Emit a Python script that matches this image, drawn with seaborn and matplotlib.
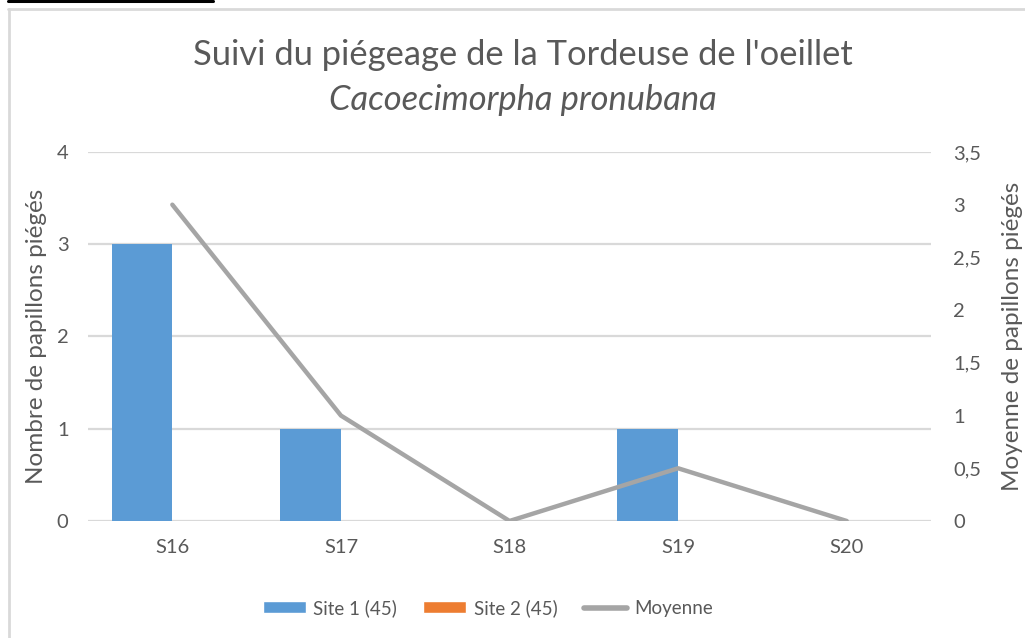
import numpy as np
import pandas as pd
import seaborn as sns
import matplotlib.pyplot as plt
from matplotlib.patches import Patch
from matplotlib.lines import Line2D

semaines = ['S16', 'S17', 'S18', 'S19', 'S20']
site1 = [3, 1, 0, 1, 0]
site2 = [0, 0, 0, 0, 0]
moyenne = [3, 1, 0, 0.5, 0]
series = ['Site 1 (45)', 'Site 2 (45)']

bleu = '#5B9BD5'
orange = '#ED7D31'
gris = '#A5A5A5'
texte = '#595959'
grille = '#D9D9D9'

df = pd.DataFrame({
    'semaine': semaines * 2,
    'site': [series[0]] * 5 + [series[1]] * 5,
    'papillons': site1 + site2,
})

sns.set_theme(style='white')
plt.rcParams['font.family'] = ['Lato', 'DejaVu Sans']
plt.rcParams['text.color'] = texte

fig = plt.figure(figsize=(10.25, 6.38), dpi=100)
ax = fig.add_axes([0.0859, 0.1834, 0.8224, 0.5784])

sns.barplot(data=df, x='semaine', y='papillons', hue='site', order=semaines,
            hue_order=series, palette=[bleu, orange], width=0.72,
            saturation=1, linewidth=0, ax=ax, legend=False)

ax.set_xlim(-0.5, 4.5)
ax.set_ylim(0, 4)
ax.set_yticks([0, 1, 2, 3, 4])
ax.yaxis.grid(True, color=grille, linewidth=1.6)
ax.set_axisbelow(True)
for s in ax.spines.values():
    s.set_visible(False)
ax.tick_params(axis='both', length=0, labelsize=14.5, colors=texte)
ax.tick_params(axis='y', pad=14)
ax.tick_params(axis='x', pad=13)
ax.set_xlabel('')
ax.set_ylabel('Nombre de papillons piégés', fontsize=17.5, color=texte, labelpad=7)

ax2 = ax.twinx()
sns.lineplot(x=np.arange(len(semaines)), y=moyenne, color=gris, linewidth=3.2,
             ax=ax2, legend=False)
ax2.set_xlim(-0.5, 4.5)
ax2.set_ylim(0, 3.5)
ax2.set_yticks([0, 0.5, 1, 1.5, 2, 2.5, 3, 3.5])
ax2.set_yticklabels(['0', '0,5', '1', '1,5', '2', '2,5', '3', '3,5'])
ax2.grid(False)
for s in ax2.spines.values():
    s.set_visible(False)
ax2.tick_params(axis='y', length=0, labelsize=14.5, colors=texte, pad=16)
ax2.set_ylabel('Moyenne de papillons piégés', fontsize=17.5, color=texte, labelpad=15)

fig.text(0.51, 1 - 55 / 638, "Suivi du piégeage de la Tordeuse de l'oeillet",
         ha='center', va='center', fontsize=24.8, color=texte)
fig.text(0.51, 1 - 100 / 638, 'Cacoecimorpha pronubana',
         ha='center', va='center', fontsize=24.8, color=texte, style='italic')

handles = [Patch(facecolor=bleu), Patch(facecolor=orange),
           Line2D([0], [0], color=gris, linewidth=4)]
fig.legend(handles, series + ['Moyenne'], loc='center',
           bbox_to_anchor=(0.476, 1 - 608 / 638), ncol=3, frameon=False,
           fontsize=13.5, handlelength=2.3, handleheight=0.6,
           handletextpad=0.4, columnspacing=1.4, labelcolor=texte)

# bordure de la zone du graphique (capture recadrée)
fig.add_artist(Line2D([8 / 1025, 1], [1 - 9 / 638, 1 - 9 / 638],
                      color='#D9D9D9', linewidth=2))
fig.add_artist(Line2D([9 / 1025, 9 / 1025], [0, 1 - 9 / 638],
                      color='#D9D9D9', linewidth=2))
fig.add_artist(Line2D([8 / 1025, 213 / 1025], [1 - 1 / 638, 1 - 1 / 638],
                      color='black', linewidth=2.2))

fig.savefig('out.png', dpi=100)
